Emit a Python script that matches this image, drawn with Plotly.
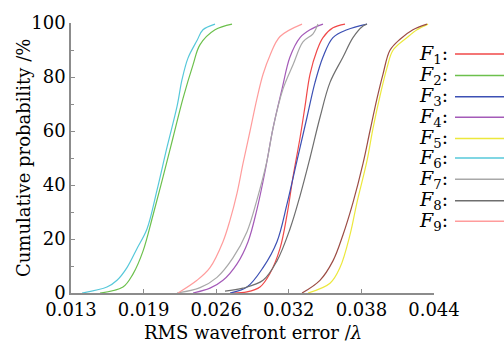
import plotly.graph_objects as go

# ---- data (RMS wavefront error in lambda, cumulative probability in %) ----
f1_x = [0.02683, 0.02803, 0.02914, 0.02999, 0.03085, 0.03145, 0.03196, 0.03256, 0.03298, 0.03341, 0.03401, 0.03452, 0.03537, 0.0364]
f1_y = [0, 0.4, 2.2, 7.2, 16.5, 29, 43, 57.5, 69, 81, 89.9, 94.6, 98.2, 99.6]

f2_x = [0.01548, 0.01744, 0.01829, 0.01915, 0.0200, 0.02086, 0.02171, 0.02256, 0.02342, 0.02402, 0.0253, 0.02675]
f2_y = [0, 2.2, 7, 15.5, 28.8, 43, 57.5, 72, 84.5, 92, 97.5, 99.6]

f3_x = [0.02658, 0.02803, 0.0294, 0.03059, 0.03145, 0.0323, 0.03315, 0.03384, 0.03452, 0.03537, 0.03657, 0.03828]
f3_y = [0, 2.2, 9.4, 19, 33, 49, 65, 78, 87.4, 94.6, 97.5, 99.6]

f4_x = [0.02342, 0.02487, 0.02598, 0.02718, 0.02812, 0.02888, 0.02957, 0.03025, 0.03102, 0.0317, 0.03256, 0.03341, 0.03452]
f4_y = [0, 1.8, 4.7, 10.8, 19, 31, 45, 61, 75.5, 87.4, 94.6, 97.5, 99.6]

f5_x = [0.03324, 0.03512, 0.03597, 0.03683, 0.03742, 0.03828, 0.03879, 0.03939, 0.03999, 0.0405, 0.0417, 0.04255, 0.04349]
f5_y = [0, 3.6, 9.4, 21.6, 33.5, 49, 61, 73, 83.5, 89.9, 94.6, 97.5, 99.6]

f6_x = [0.01394, 0.01607, 0.01693, 0.01778, 0.01864, 0.01949, 0.02034, 0.0212, 0.02205, 0.02248, 0.02299, 0.02376, 0.02427, 0.0253]
f6_y = [0, 2.2, 4.7, 9.4, 16.5, 23.7, 38, 54, 69, 79, 87, 93.5, 97.5, 99.6]

f7_x = [0.02205, 0.02402, 0.02547, 0.02683, 0.02803, 0.02888, 0.02974, 0.03025, 0.0311, 0.03196, 0.03281, 0.03367, 0.03409]
f7_y = [0, 2, 5.8, 13, 22.7, 34.5, 49, 61, 75.5, 84.5, 93, 96, 99.6]

f8_x = [0.02615, 0.02769, 0.0294, 0.03059, 0.0317, 0.03256, 0.03341, 0.03426, 0.03512, 0.03623, 0.03708, 0.03794, 0.03828]
f8_y = [0.7, 1.8, 4.7, 11.9, 23.7, 36, 50, 65, 78, 87.4, 94.6, 98.9, 99.6]

f9_x = [0.02214, 0.02376, 0.02487, 0.02598, 0.02658, 0.02718, 0.02769, 0.02829, 0.02888, 0.0294, 0.02999, 0.03085, 0.03273]
f9_y = [0, 4.7, 9.4, 19, 27, 37, 48, 60, 72, 81, 88, 95, 99.6]

extra_x = [0.03273, 0.03426, 0.03537, 0.03623, 0.03708, 0.03794, 0.03853, 0.03913, 0.03964, 0.04024, 0.0411, 0.0422, 0.0434]
extra_y = [0, 4.7, 11.9, 21.6, 33.5, 48, 60, 72, 81, 89.9, 94, 97.5, 99.6]

x_tick_labels = ["0.013", "0.019", "0.026", "0.032", "0.038", "0.044"]
y_tick_vals = [0, 20, 40, 60, 80, 100]
legend_labels = ["1", "2", "3", "4", "5", "6", "7", "8", "9"]

x_min, x_max = 0.013, 0.044

series = [
    (f1_x, f1_y, "#f04848"),
    (f2_x, f2_y, "#6cc04c"),
    (f3_x, f3_y, "#3c50b4"),
    (f4_x, f4_y, "#a45ab8"),
    (f5_x, f5_y, "#ece83c"),
    (f6_x, f6_y, "#56c8da"),
    (f7_x, f7_y, "#a8a8a8"),
    (f8_x, f8_y, "#6e6e6e"),
    (f9_x, f9_y, "#ff9c9c"),
]

fig = go.Figure()
for xs, ys, c in series:
    fig.add_trace(go.Scatter(x=xs, y=ys, mode="lines", line=dict(color=c, width=1.2),
                             line_shape="spline", showlegend=False))
fig.add_trace(go.Scatter(x=extra_x, y=extra_y, mode="lines", line=dict(color="#9c4c44", width=1.2),
                         line_shape="spline", showlegend=False))

n = len(x_tick_labels)
tickvals = [x_min + i * (x_max - x_min) / (n - 1) for i in range(n)]

font_family = "DejaVu Serif"
axis_col = "#8c8c8c"

fig.update_layout(
    width=504, height=342,
    margin=dict(l=71, r=70, t=15, b=49),
    paper_bgcolor="white", plot_bgcolor="white",
    font=dict(family=font_family, size=18, color="black"),
    xaxis=dict(range=[x_min, x_max], tickvals=tickvals, ticktext=x_tick_labels,
               showgrid=False, zeroline=False, showline=True, linecolor=axis_col, linewidth=1.5,
               ticks="inside", ticklen=4, tickcolor=axis_col, tickwidth=1),
    yaxis=dict(range=[0, 100], tickvals=y_tick_vals,
               showgrid=False, zeroline=False, showline=True, linecolor=axis_col, linewidth=1.5,
               ticks="inside", ticklen=4, tickcolor=axis_col, tickwidth=1,
               minor=dict(ticks="inside", dtick=10, ticklen=3, tickcolor=axis_col)),
)

# axis titles
fig.add_annotation(text="RMS wavefront error /<i>λ</i>", xref="paper", yref="paper",
                   x=0.5, y=-0.1, xanchor="center", yanchor="top", showarrow=False,
                   font=dict(size=18, family=font_family))
fig.add_annotation(text="Cumulative probability /%", xref="paper", yref="paper",
                   x=(23 - 71) / 363, y=0.5, xanchor="center", yanchor="middle", textangle=-90,
                   showarrow=False, font=dict(size=18, family=font_family))

# custom legend: text then line
row_y_px = [47, 69, 91, 112, 134, 154, 176, 198, 219]
for lab, (xs, ys, c), py in zip(legend_labels, series, row_y_px):
    yp = (293 - py) / 278
    fig.add_annotation(text="<i>F</i><sub>%s</sub>:" % lab, xref="paper", yref="paper",
                       x=(417 - 71) / 363, y=yp, xanchor="left", yanchor="middle",
                       showarrow=False, font=dict(size=19, family=font_family))
    fig.add_shape(type="line", xref="paper", yref="paper",
                  x0=(455 - 71) / 363, x1=(504 - 71) / 363, y0=yp, y1=yp,
                  line=dict(color=c, width=1.5))

fig.write_html("out.html", config={"displayModeBar": False},
               post_script="document.body.style.margin='0';document.body.style.overflow='hidden';")
